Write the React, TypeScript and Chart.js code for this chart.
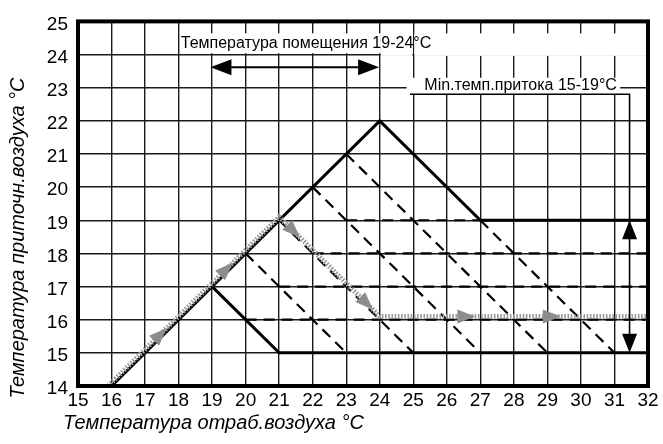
import { useEffect, useRef } from 'react';
import { Chart, registerables } from 'chart.js';

Chart.register(...registerables);

// ---- axes ----
const xTicks = [15, 16, 17, 18, 19, 20, 21, 22, 23, 24, 25, 26, 27, 28, 29, 30, 31, 32];
const yTicks = [14, 15, 16, 17, 18, 19, 20, 21, 22, 23, 24, 25];
const xTitle = 'Температура отраб.воздуха °C';
const yTitle = 'Температура приточн.воздуха °C';

// ---- solid boundary lines ----
const upperX = [16, 24, 27, 32];
const upperY = [14, 22, 19, 19];
const lowerX = [19, 21, 32];
const lowerY = [17, 15, 15];

// ---- dashed diagonal lines ----
const diag1X = [20, 23];
const diag1Y = [18, 15];
const diag2X = [21, 25];
const diag2Y = [19, 15];
const diag3X = [22, 27];
const diag3Y = [20, 15];
const diag4X = [23, 29];
const diag4Y = [21, 15];
const diag5X = [27, 31];
const diag5Y = [19, 15];

// ---- dashed horizontal lines ----
const h16X = [20, 32];
const h16Y = [16, 16];
const h17X = [21, 32];
const h17Y = [17, 17];
const h18X = [22, 32];
const h18Y = [18, 18];
const h19X = [23, 27];
const h19Y = [19, 19];

// ---- gray process path ----
const grayX = [15.9, 21, 24, 32];
const grayY = [14.0, 19.1, 16.1, 16.1];
const grayArrowX = [17.65, 19.62, 21.62, 23.8, 26.85, 29.4];
const grayArrowY = [15.75, 17.72, 18.48, 16.3, 16.1, 16.1];
const grayArrowDir = ['up', 'up', 'down', 'down', 'right', 'right'];

// ---- annotations ----
const roomLabel = 'Температура помещения 19-24°C';
const roomLabelPos = [21.8, 24.33];
const roomArrowX = [18.95, 23.98];
const roomArrowY = 23.62;
const minLabel = 'Min.темп.притока 15-19°C';
const minLabelPos = [28.2, 23.06];
const minLineStartX = 24.9;
const minLineY = 22.8;
const minBracketX = 31.45;
const minArrowY = [19, 15];

const FONT = "'Liberation Sans', Arial, Helvetica, sans-serif";

function pts(xs: number[], ys: number[]) {
  return xs.map((x, i) => ({ x, y: ys[i] }));
}

function head(ctx: CanvasRenderingContext2D, tx: number, ty: number, ux: number, uy: number, len: number, hw: number, color: string) {
  const n = Math.hypot(ux, uy) || 1;
  ux /= n;
  uy /= n;
  const bx = tx - ux * len;
  const by = ty - uy * len;
  ctx.beginPath();
  ctx.moveTo(tx, ty);
  ctx.lineTo(bx - uy * hw, by + ux * hw);
  ctx.lineTo(bx + uy * hw, by - ux * hw);
  ctx.closePath();
  ctx.fillStyle = color;
  ctx.fill();
}

const decor = {
  id: 'decor',
  beforeDatasetsDraw(chart: any) {
    const { ctx, scales } = chart;
    const X = (v: number) => scales.x.getPixelForValue(v);
    const Y = (v: number) => scales.y.getPixelForValue(v);
    ctx.save();
    ctx.fillStyle = '#fff';
    const rect = (x0: number, x1: number, y0: number, y1: number) => {
      ctx.fillRect(X(x0), Y(y1), X(x1) - X(x0), Y(y0) - Y(y1));
    };
    // white backgrounds behind the labels
    rect(18.05, 24.03, 24.04, 24.64);
    rect(24.03, 24.97, 23.96, 24.64);
    rect(25.03, 31.97, 23.96, 24.64);
    rect(24.8, 31.17, 22.8, 23.3);
    ctx.restore();
  },
  afterDatasetsDraw(chart: any) {
    const { ctx, scales, chartArea } = chart;
    const X = (v: number) => scales.x.getPixelForValue(v);
    const Y = (v: number) => scales.y.getPixelForValue(v);
    ctx.save();
    // gray arrowheads
    grayArrowX.forEach((ax, i) => {
      const d = grayArrowDir[i];
      let dx = 1, dy = 0;
      if (d === 'up') { dx = 1; dy = 1; }
      if (d === 'down') { dx = 1; dy = -1; }
      const ux = X(ax + dx) - X(ax);
      const uy = Y(grayArrowY[i] + dy) - Y(grayArrowY[i]);
      head(ctx, X(ax), Y(grayArrowY[i]), ux, uy, 18, 7, '#8c8c8c');
    });

    // frame
    ctx.strokeStyle = '#000';
    ctx.lineWidth = 4;
    ctx.strokeRect(chartArea.left, chartArea.top, chartArea.right - chartArea.left, chartArea.bottom - chartArea.top);

    // room temperature arrow
    ctx.lineWidth = 2;
    ctx.beginPath();
    ctx.moveTo(X(roomArrowX[0]) + 5, Y(roomArrowY));
    ctx.lineTo(X(roomArrowX[1]) - 5, Y(roomArrowY));
    ctx.stroke();
    head(ctx, X(roomArrowX[0]), Y(roomArrowY), -1, 0, 21, 8, '#000');
    head(ctx, X(roomArrowX[1]), Y(roomArrowY), 1, 0, 21, 8, '#000');

    // min supply bracket
    ctx.lineWidth = 1.6;
    ctx.beginPath();
    ctx.moveTo(X(minLineStartX), Y(minLineY));
    ctx.lineTo(X(minBracketX), Y(minLineY));
    ctx.lineTo(X(minBracketX), Y(minArrowY[1]) - 4);
    ctx.stroke();
    head(ctx, X(minBracketX), Y(minArrowY[0]), 0, -1, 19, 7.5, '#000');
    head(ctx, X(minBracketX), Y(minArrowY[1]), 0, 1, 19, 7.5, '#000');

    // labels
    ctx.fillStyle = '#000';
    ctx.font = `16px ${FONT}`;
    ctx.textAlign = 'center';
    ctx.textBaseline = 'middle';
    ctx.fillText(roomLabel, X(roomLabelPos[0]), Y(roomLabelPos[1]));
    ctx.fillText(minLabel, X(minLabelPos[0]), Y(minLabelPos[1]));

    // axis titles
    ctx.font = `italic 20px ${FONT}`;
    ctx.textAlign = 'left';
    ctx.fillText(xTitle, 63, 423);
    ctx.translate(18, 238);
    ctx.rotate(-Math.PI / 2);
    ctx.textAlign = 'center';
    ctx.fillText(yTitle, 0, 0);
    ctx.restore();
  },
};

export default function App() {
  const ref = useRef<HTMLCanvasElement | null>(null);
  useEffect(() => {
    if (!ref.current) return;
    const solid = { borderColor: '#000', borderWidth: 3, borderDash: [] as number[] };
    const dashed = { borderColor: '#000', borderWidth: 2.2, borderDash: [11, 7] };
    const mk = (xs: number[], ys: number[], st: any) => ({
      data: pts(xs, ys),
      showLine: true,
      pointRadius: 0,
      fill: false,
      tension: 0,
      borderCapStyle: 'butt',
      ...st,
    });
    const chart = new Chart(ref.current, {
      type: 'scatter',
      data: {
        datasets: [
          mk(grayX, grayY, { borderColor: '#9a9a9a', borderWidth: 5, borderDash: [1.6, 1.6] }),
          mk(upperX, upperY, solid),
          mk(lowerX, lowerY, solid),
          mk(diag1X, diag1Y, dashed),
          mk(diag2X, diag2Y, dashed),
          mk(diag3X, diag3Y, dashed),
          mk(diag4X, diag4Y, dashed),
          mk(diag5X, diag5Y, dashed),
          mk(h16X, h16Y, dashed),
          mk(h17X, h17Y, dashed),
          mk(h18X, h18Y, dashed),
          mk(h19X, h19Y, dashed),
        ] as any,
      },
      options: {
        responsive: false,
        animation: false,
        events: [],
        layout: { padding: { left: 0, right: 15, top: 15, bottom: 0 } },
        plugins: { legend: { display: false }, tooltip: { enabled: false } },
        scales: {
          x: {
            type: 'linear',
            min: 15,
            max: 32,
            afterBuildTicks: (s: any) => { s.ticks = xTicks.map((v) => ({ value: v })); },
            afterFit: (s: any) => { s.height = 58; },
            ticks: { autoSkip: false, maxRotation: 0, color: '#000', padding: 3, font: { family: FONT, size: 19 } },
            grid: { color: '#1a1a1a', lineWidth: 1.4, drawTicks: false },
            border: { display: false },
          },
          y: {
            type: 'linear',
            min: 14,
            max: 25,
            afterBuildTicks: (s: any) => { s.ticks = yTicks.map((v) => ({ value: v })); },
            afterFit: (s: any) => { s.width = 78; },
            ticks: { autoSkip: false, color: '#000', padding: 10, labelOffset: 3, font: { family: FONT, size: 19 } },
            grid: { color: '#1a1a1a', lineWidth: 1.4, drawTicks: false },
            border: { display: false },
          },
        },
      } as any,
      plugins: [decor],
    });
    return () => chart.destroy();
  }, []);
  return (
    <div style={{ position: 'fixed', left: 0, top: 0, width: 663, height: 444, background: '#fff' }}>
      <canvas ref={ref} width={663} height={444} style={{ display: 'block' }} />
    </div>
  );
}
